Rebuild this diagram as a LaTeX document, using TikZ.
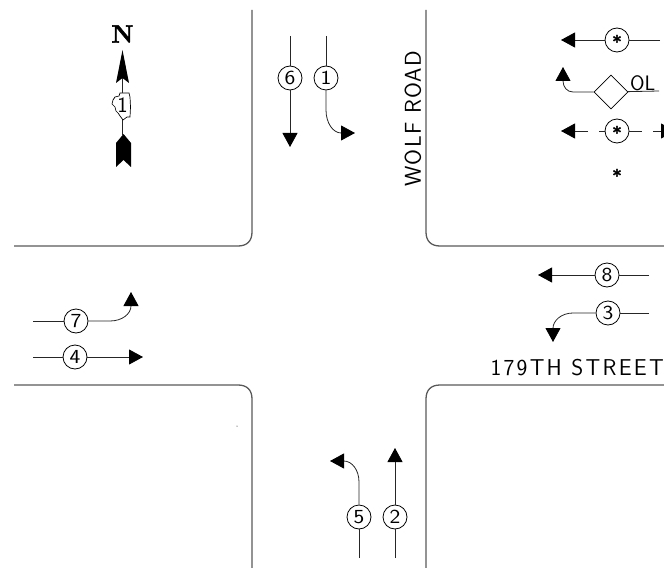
\documentclass[tikz,border=0pt]{standalone}
\usepackage{fontspec}
\setmainfont{Latin Modern Roman}
\setsansfont{Latin Modern Sans}
\usepackage{tikz}
\usetikzlibrary{arrows.meta,shapes.geometric}
\tikzset{
    road/.style={line width=1.3pt, black!65, line join=round},
    move/.style={line width=0.8pt, black!85},
    tip/.style={move, -{Triangle[length=14bp,width=15bp,color=black]}},
    phase/.style={circle, draw=black, line width=0.8pt, fill=white, minimum size=24bp, inner sep=0pt, font=\sffamily\fontsize{20}{20}\selectfont\addfontfeatures{FakeStretch=1.15}},
    overlap/.style={diamond, draw=black, line width=0.8pt, fill=white, minimum size=34bp, inner sep=0pt},
    street/.style={inner sep=0pt, font=\sffamily\fontsize{23}{24}\selectfont\addfontfeatures{LetterSpace=#1}},
    asterisk/.style={inner sep=0pt, font=\bfseries\fontsize{18}{18}\selectfont\addfontfeatures{FakeBold=2}}
}
\begin{document}
\begin{tikzpicture}[x=1bp, y=-1bp]
        \useasboundingbox (0,0) rectangle (664,568);
        \clip (0,0) rectangle (664,568);

        % Road edges.
        \draw[road] (252,10) -- (252,232) .. controls (252,241) and (247,246) .. (238,246) -- (14,246);
        \draw[road] (426,10) -- (426,232) .. controls (426,241) and (431,246) .. (440,246) -- (664,246);
        \draw[road] (14,385) -- (238,385) .. controls (247,385) and (252,390) .. (252,399) -- (252,568);
        \draw[road] (664,385) -- (440,385) .. controls (431,385) and (426,390) .. (426,399) -- (426,568);
        \node[street=6, rotate=90] (wolf) at (413,118.5) {WOLF ROAD};
        \node[street=10, anchor=east] (street179) at (664,368) {179TH STREET};
        \fill[black] (237,426) circle (0.5);

        % North arrow.
        \node[inner sep=0pt, font=\bfseries\fontsize{25}{25}\selectfont\addfontfeatures{FakeBold=2}] (north) at (122.5,34) {N};
        \coordinate (NA) at (122.5,78);
        \coordinate (NB) at (122.5,135);
        \draw[move] (NA) -- (NB);
        \fill[black] (122.5,50) -- (129,83) -- (122.5,78) -- (116,83) -- cycle;
        \fill[black] (123.5,134) -- (131,143) -- (131,167) -- (123.5,160) -- (116,167) -- (116,143) -- cycle;
        \draw[line width=0.7pt, fill=white] (120,93) -- (129,93) -- (130,97) -- (130.5,107) -- (130,117) -- (127,117) -- (123,120) -- (120,116) -- (118,113) -- (116,111) -- (115,107) -- (112,104) -- (113,100) -- (115,97) -- (119,96) -- cycle;
        \node[inner sep=0pt, font=\sffamily\fontsize{22}{22}\selectfont] (route) at (122.5,105) {1};

        % 6
        \node[phase] (P6) at (290,78) {6};
        \coordinate (P6a) at (290,36);
        \coordinate (P6b) at (290,147);
        \draw[move] (P6a) -- (P6);
        \draw[tip] (P6) -- (P6b);

        % 1
        \node[phase] (P1) at (326,78) {1};
        \coordinate (P1a) at (326,36);
        \coordinate (P1b) at (355,133);
        \draw[move] (P1a) -- (P1);
        \draw[tip] (P1) -- (326,110) .. controls (326,123) and (333,133) .. (P1b);

        % 2
        \node[phase] (P2) at (395,517) {2};
        \coordinate (P2a) at (395,558);
        \coordinate (P2b) at (395,448);
        \draw[move] (P2a) -- (P2);
        \draw[tip] (P2) -- (P2b);

        % 5
        \node[phase] (P5) at (359,517) {5};
        \coordinate (P5a) at (359,558);
        \coordinate (P5b) at (330,461);
        \draw[move] (P5a) -- (P5);
        \draw[tip] (P5) -- (359,482) .. controls (359,470) and (352,461) .. (P5b);

        % 7
        \node[phase] (P7) at (76,321) {7};
        \coordinate (P7a) at (33,321);
        \coordinate (P7b) at (131,292);
        \draw[move] (P7a) -- (P7);
        \draw[tip] (P7) -- (110,321) .. controls (122,321) and (131,314) .. (P7b);

        % 4
        \node[phase] (P4) at (75,357) {4};
        \coordinate (P4a) at (33,357);
        \coordinate (P4b) at (143,357);
        \draw[move] (P4a) -- (P4);
        \draw[tip] (P4) -- (P4b);

        % 8
        \node[phase] (P8) at (607,275) {8};
        \coordinate (P8a) at (649,275);
        \coordinate (P8b) at (538,275);
        \draw[move] (P8a) -- (P8);
        \draw[tip] (P8) -- (P8b);

        % 3
        \node[phase] (P3) at (608,313) {3};
        \coordinate (P3a) at (649,313);
        \coordinate (P3b) at (553,342);
        \draw[move] (P3a) -- (P3);
        \draw[tip] (P3) -- (573,313) .. controls (561,313) and (553,321) .. (P3b);

        % Top lane, starred
        \node[phase] (S1) at (617,40) {};
        \node[asterisk] (S1s) at (617,41.5) {*};
        \coordinate (S1a) at (660,40);
        \coordinate (S1b) at (561,40);
        \draw[move] (S1a) -- (S1);
        \draw[tip] (S1) -- (S1b);

        % Overlap
        \node[overlap] (OL) at (611,92) {};
        \node[inner sep=0pt, font=\sffamily\fontsize{21}{21}\selectfont, anchor=south west] (OLtext) at (630,91) {OL};
        \coordinate (OLa) at (659,91);
        \coordinate (OLb) at (563,67);
        \draw[move] (OLa) -- (OL);
        \draw[tip] (OL) -- (573,92) .. controls (567,92) and (563,87) .. (OLb);

        % Dashed lane, starred
        \node[phase] (S2) at (617,131) {};
        \node[asterisk] (S2s) at (617,132.5) {*};
        \coordinate (S2a) at (599,131);
        \coordinate (S2b) at (588,131);
        \coordinate (S2c) at (561,131);
        \coordinate (S2d) at (642,131);
        \coordinate (S2e) at (653,131);
        \coordinate (S2f) at (675,131);
        \draw[move] (S2) -- (S2a);
        \draw[tip] (S2b) -- (S2c);
        \draw[move] (S2) -- (S2d);
        \draw[tip] (S2e) -- (S2f);

        \node[asterisk] (S3) at (617,175.5) {*};
\end{tikzpicture}
\end{document}
